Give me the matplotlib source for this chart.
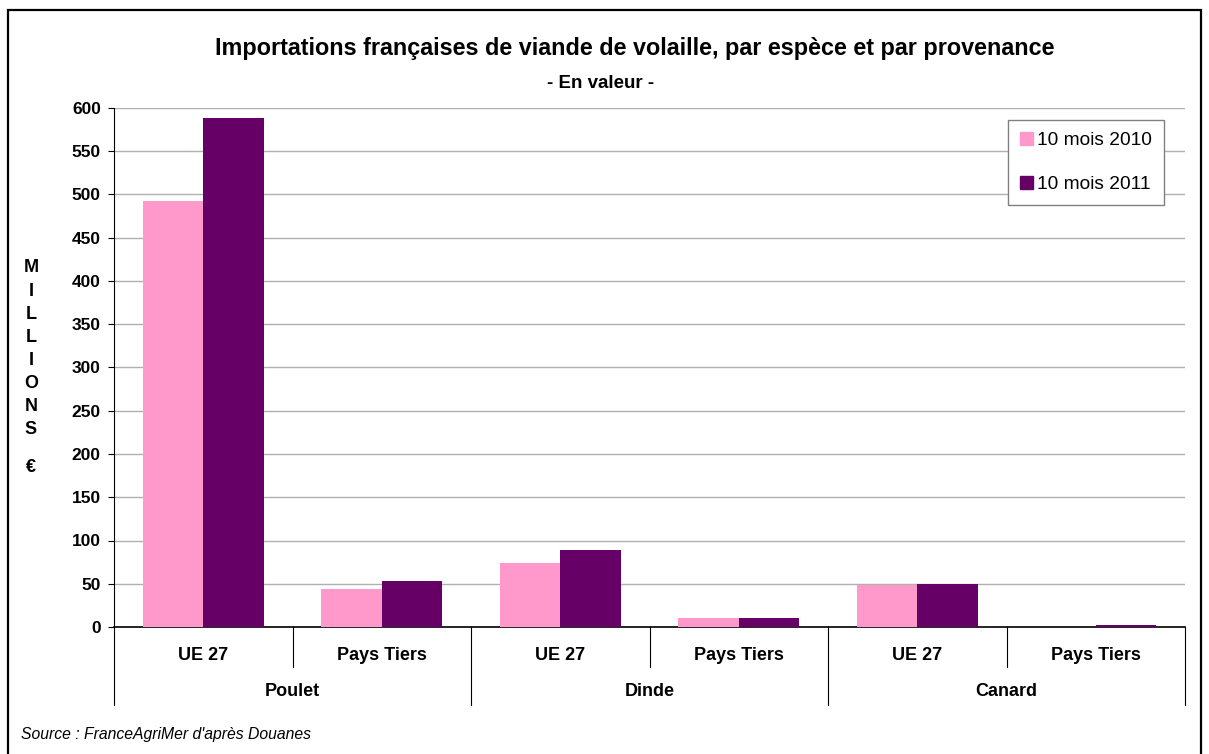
import matplotlib
matplotlib.use("Agg")
import matplotlib.pyplot as plt
from matplotlib.patches import Rectangle
from matplotlib.lines import Line2D
import numpy as np

groups = ["Poulet", "Dinde", "Canard"]
subcats = ["UE 27", "Pays Tiers", "UE 27", "Pays Tiers", "UE 27", "Pays Tiers"]
series_names = ["10 mois 2010", "10 mois 2011"]
v2010 = [492, 44, 74, 10.5, 48, 0.4]
v2011 = [588, 53, 89, 10.5, 50, 2]
colors = ["#FF99CC", "#660066"]
yticks = list(range(0, 601, 50))

W, H = 1209, 754
fig = plt.figure(figsize=(W/100, H/100), dpi=100)
fig.patch.set_facecolor("white")
FONT = "Liberation Sans"

def fx(px): return px / W
def fy(py): return 1 - py / H

# outer frame (bottom edge falls outside the image, as in the reference)
fig.add_artist(Rectangle((fx(8), fy(760)), fx(1201) - fx(8), fy(10) - fy(760),
                         fill=False, edgecolor="black", linewidth=1.6, transform=fig.transFigure))

L, R, T, B = 114, 1185, 108, 627
ax = fig.add_axes([fx(L), fy(B), fx(R) - fx(L), fy(T) - fy(B)])
n = len(subcats)
x = np.arange(n)
bw = 0.34
ax.bar(x - bw/2, v2010, bw, color=colors[0], label=series_names[0], zorder=3)
ax.bar(x + bw/2, v2011, bw, color=colors[1], label=series_names[1], zorder=3)
ax.set_xlim(-0.5, n - 0.5)
ax.set_ylim(0, 600)
ax.set_yticks(yticks)
ax.set_yticklabels([str(t) for t in yticks], fontsize=12.5, fontweight="bold", family=FONT)
ax.yaxis.grid(True, color="#B0B0B0", linewidth=1, zorder=0)
ax.tick_params(axis="y", length=4.5, direction="out", width=0.8, pad=5)
ax.set_xticks([])
for s in ["top", "right"]:
    ax.spines[s].set_visible(False)
ax.spines["left"].set_color("black")
ax.spines["left"].set_linewidth(0.8)
ax.spines["bottom"].set_color("black")
ax.spines["bottom"].set_linewidth(1.2)

# category axis lines
trans = ax.get_xaxis_transform()
for i in range(n + 1):
    xpos = i - 0.5
    if i % 2 == 0:
        y_end = -(705 - B) / (B - T)
    else:
        y_end = -(667 - B) / (B - T)
    ax.add_line(Line2D([xpos, xpos], [0, y_end], transform=trans, color="black",
                       linewidth=0.8, clip_on=False))
for i, lab in enumerate(subcats):
    ax.text(i, -(656 - B) / (B - T), lab, transform=trans, ha="center", va="center",
            fontsize=13, fontweight="bold", family=FONT)
for g, lab in enumerate(groups):
    ax.text(2 * g + 0.5, -(691 - B) / (B - T), lab, transform=trans, ha="center", va="center",
            fontsize=13, fontweight="bold", family=FONT)

# legend
leg = fig.legend(handles=[Rectangle((0, 0), 1, 1, color=colors[0]), Rectangle((0, 0), 1, 1, color=colors[1])],
                 labels=series_names, loc="upper left",
                 bbox_to_anchor=(fx(1008), fy(120)), bbox_transform=fig.transFigure,
                 prop={"family": FONT, "size": 13.8}, handlelength=0.68, handleheight=0.68,
                 handletextpad=0.22, labelspacing=1.4, borderpad=0.62, borderaxespad=0,
                 fancybox=False, edgecolor="#808080", framealpha=1)
leg.get_frame().set_linewidth(1)

# titles
fig.text(fx(635), fy(48), "Importations françaises de viande de volaille, par espèce et par provenance",
         ha="center", va="center", fontsize=16.8, fontweight="bold", family=FONT)
fig.text(fx(601), fy(83), "- En valeur -", ha="center", va="center", fontsize=13.5,
         fontweight="bold", family=FONT)

# vertical y label
letters = ["M", "I", "L", "L", "I", "O", "N", "S"]
for k, ch in enumerate(letters):
    fig.text(fx(31), fy(268 + k * 23.1), ch, ha="center", va="center", fontsize=13,
             fontweight="bold", family=FONT)
fig.text(fx(31), fy(467), "€", ha="center", va="center", fontsize=13,
         fontweight="bold", family=FONT)

fig.text(fx(21), fy(734), "Source : FranceAgriMer d'après Douanes", ha="left", va="center",
         fontsize=11.3, style="italic", family=FONT)

fig.savefig("out.png", dpi=100)
